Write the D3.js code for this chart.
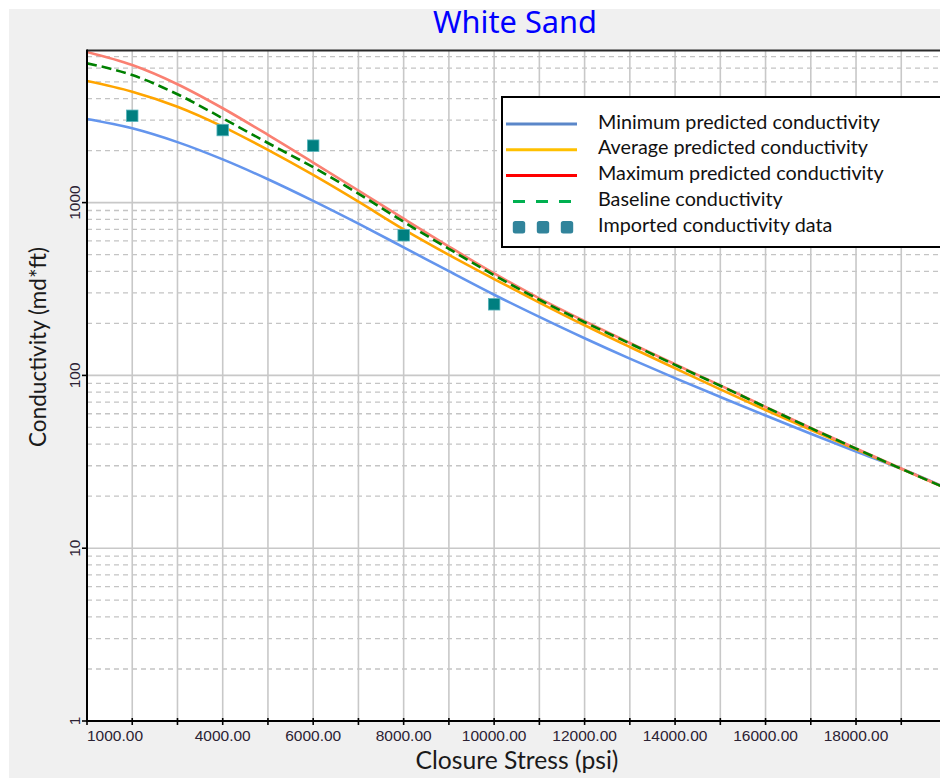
<!DOCTYPE html>
<html>
<head>
<meta charset="utf-8">
<script src="https://cdn.jsdelivr.net/npm/d3@7/dist/d3.min.js"></script>
<style>
  html, body { margin: 0; padding: 0; background: #ffffff; }
  svg { display: block; }
</style>
</head>
<body>
<svg id="chart" width="940" height="778"></svg>
<script>
// Closure stress (psi) at which the predicted curves are evaluated
const stress = [1000, 2000, 3000, 4000, 5000, 6000, 7000, 8000, 9000, 10000,
                11000, 12000, 13000, 14000, 15000, 16000, 17000, 18000, 19000, 20000];

// Conductivity (md*ft) for each predicted curve
const minCond  = [3048, 2692, 2239, 1778, 1365, 1023, 755, 551, 401, 293,
                  218, 164, 125, 96.4, 75.0, 58.6, 46.0, 36.3, 28.8, 22.3];
const avgCond  = [5058, 4385, 3589, 2754, 2018, 1445, 1012, 700, 498, 361,
                  264, 195, 146, 110, 83.0, 63.1, 48.4, 37.3, 28.8, 22.2];
const maxCond  = [7447, 6252, 4842, 3516, 2466, 1706, 1175, 807, 557, 389,
                  279, 206, 154, 116, 87.5, 65.8, 49.7, 37.8, 28.9, 22.2];
const baseCond = [6397, 5470, 4236, 3076, 2213, 1603, 1127, 774, 540, 380,
                  274, 203, 153, 115, 87.1, 65.6, 49.5, 37.7, 28.8, 22.2];

// Imported lab measurements
const importedStress = [2000, 4000, 6000, 8000, 10000];
const importedCond   = [3180, 2630, 2135, 647, 258];

// Axis ticks and labels
const xTicks = d3.range(1000, 20001, 1000);
const xLabelTicks = [1000, 4000, 6000, 8000, 10000, 12000, 14000, 16000, 18000];
const yMajor = [1, 10, 100, 1000];

const legendItems = [
  { label: "Minimum predicted conductivity", kind: "line",   color: "#5b87c9" },
  { label: "Average predicted conductivity", kind: "line",   color: "#ffc000" },
  { label: "Maximum predicted conductivity", kind: "line",   color: "#ff0000" },
  { label: "Baseline conductivity",          kind: "dash",   color: "#00b050" },
  { label: "Imported conductivity data",     kind: "marker", color: "#31849b" }
];

const svg = d3.select("#chart");
const W = 940, H = 778;
const plot = { left: 87, top: 51, right: 946.5, bottom: 721 };

// scale a text element's font so it spans the given width
function fitWidth(sel, width) {
  const node = sel.node();
  const fs = parseFloat(sel.attr("font-size"));
  const w = node.getComputedTextLength();
  if (w > 0) sel.attr("font-size", (fs * width / w).toFixed(2));
  return sel;
}

// window background
svg.append("rect").attr("x", 9).attr("y", 9).attr("width", W - 9).attr("height", H - 9)
  .attr("fill", "#f0f0f0");
svg.append("rect").attr("x", plot.left).attr("y", plot.top)
  .attr("width", plot.right - plot.left).attr("height", plot.bottom - plot.top)
  .attr("fill", "#ffffff");

const x = d3.scaleLinear().domain([1000, 20000]).range([plot.left, plot.right]);
const y = d3.scaleLog().domain([1, 7540]).range([plot.bottom, plot.top]);

// grid
const grid = svg.append("g");
const minorVals = [];
for (const d of [1, 10, 100, 1000]) {
  for (let k = 2; k <= 9; k++) {
    const v = d * k;
    if (v <= y.domain()[1]) minorVals.push(v);
  }
}
grid.selectAll("line.minor").data(minorVals).join("line")
  .attr("x1", plot.left).attr("x2", plot.right)
  .attr("y1", d => y(d)).attr("y2", d => y(d))
  .attr("stroke", "#c4c4c4").attr("stroke-width", 1.3).attr("stroke-dasharray", "5,4");
grid.selectAll("line.major").data(yMajor.slice(1)).join("line")
  .attr("x1", plot.left).attr("x2", plot.right)
  .attr("y1", d => y(d)).attr("y2", d => y(d))
  .attr("stroke", "#c8c8c8").attr("stroke-width", 1.6);
grid.selectAll("line.vert").data(xTicks.slice(1)).join("line")
  .attr("x1", d => x(d)).attr("x2", d => x(d))
  .attr("y1", plot.top).attr("y2", plot.bottom)
  .attr("stroke", "#c8c8c8").attr("stroke-width", 1.6);

// curves
svg.append("clipPath").attr("id", "plotClip").append("rect")
  .attr("x", plot.left).attr("y", plot.top - 2)
  .attr("width", plot.right - plot.left).attr("height", plot.bottom - plot.top + 2);

const series = [
  { values: minCond,  color: "#6495ed", dash: null },
  { values: avgCond,  color: "#ffa500", dash: null },
  { values: maxCond,  color: "#fa8072", dash: null },
  { values: baseCond, color: "#008000", dash: "10,5" }
];
const line = d3.line()
  .x(d => x(d[0])).y(d => y(d[1]))
  .curve(d3.curveMonotoneX);
const curves = svg.append("g").attr("clip-path", "url(#plotClip)");
series.forEach(s => {
  curves.append("path")
    .attr("d", line(stress.map((v, i) => [v, s.values[i]])))
    .attr("fill", "none")
    .attr("stroke", s.color)
    .attr("stroke-width", 2.6)
    .attr("stroke-dasharray", s.dash);
});

// imported data points
const ms = 11.5;
curves.selectAll("rect.pt").data(importedStress.map((v, i) => [v, importedCond[i]])).join("rect")
  .attr("x", d => x(d[0]) - ms / 2).attr("y", d => y(d[1]) - ms / 2)
  .attr("width", ms).attr("height", ms)
  .attr("fill", "#007f80").attr("stroke", "#58b3bb").attr("stroke-width", 0.8);

// plot frame and axes
svg.append("line").attr("x1", plot.left).attr("x2", plot.right)
  .attr("y1", plot.top - 0.5).attr("y2", plot.top - 0.5)
  .attr("stroke", "#2a2a2a").attr("stroke-width", 2);
svg.append("line").attr("x1", plot.left).attr("x2", plot.left)
  .attr("y1", plot.top - 1.5).attr("y2", plot.bottom + 1)
  .attr("stroke", "#000").attr("stroke-width", 2);
svg.append("line").attr("x1", plot.left - 1).attr("x2", plot.right)
  .attr("y1", plot.bottom).attr("y2", plot.bottom)
  .attr("stroke", "#000").attr("stroke-width", 2);

// x ticks
svg.append("g").selectAll("line").data(xTicks).join("line")
  .attr("x1", d => x(d)).attr("x2", d => x(d))
  .attr("y1", plot.bottom - 3).attr("y2", plot.bottom + 4)
  .attr("stroke", "#000").attr("stroke-width", 1.6);
const tickFont = "'Liberation Sans', Arial, sans-serif";
svg.append("g").selectAll("text").data(xLabelTicks).join("text")
  .attr("x", d => d === 1000 ? plot.left : x(d))
  .attr("y", 741)
  .attr("text-anchor", d => d === 1000 ? "start" : "middle")
  .attr("font-family", tickFont).attr("font-size", 15.5)
  .attr("fill", "#2b2233")
  .text(d => d3.format(".2f")(d));

// y ticks
svg.append("g").selectAll("line").data(yMajor).join("line")
  .attr("x1", plot.left - 5).attr("x2", plot.left)
  .attr("y1", d => y(d)).attr("y2", d => y(d))
  .attr("stroke", "#000").attr("stroke-width", 1.6);
svg.append("g").selectAll("text").data(yMajor).join("text")
  .attr("transform", d => `translate(80,${y(d)}) rotate(-90)`)
  .attr("text-anchor", "middle")
  .attr("font-family", tickFont).attr("font-size", 15.5)
  .attr("fill", "#2b2233")
  .text(d => d);

// titles
svg.append("text")
  .attr("x", 515).attr("y", 33)
  .attr("text-anchor", "middle")
  .attr("font-family", "'Noto Sans', 'Open Sans', sans-serif")
  .attr("font-size", 31)
  .attr("textLength", 164).attr("lengthAdjust", "spacingAndGlyphs")
  .attr("fill", "#0000ff")
  .text("White Sand");

const labelFont = "Lato, 'Open Sans', sans-serif";
const xTitle = svg.append("text")
  .attr("x", 517).attr("y", 769)
  .attr("text-anchor", "middle")
  .attr("font-family", labelFont).attr("font-size", 22)
  .attr("fill", "#1a1a1a")
  .text("Closure Stress (psi)");
fitWidth(xTitle, 203);
const yTitle = svg.append("text")
  .attr("transform", "translate(46,347) rotate(-90)")
  .attr("text-anchor", "middle")
  .attr("font-family", labelFont).attr("font-size", 22)
  .attr("fill", "#1a1a1a")
  .text("Conductivity (md*ft)");
fitWidth(yTitle, 200);

// legend
const lg = svg.append("g");
lg.append("rect").attr("x", 502).attr("y", 97).attr("width", 460).attr("height", 150)
  .attr("fill", "#ffffff").attr("stroke", "#000").attr("stroke-width", 2);
let legendFont = null;
legendItems.forEach((it, i) => {
  const base = 128.5 + i * 25.8;
  const cy = base - 4.5;
  if (it.kind === "line" || it.kind === "dash") {
    lg.append("line").attr("x1", 506).attr("x2", 577).attr("y1", cy).attr("y2", cy)
      .attr("stroke", it.color).attr("stroke-width", 3)
      .attr("stroke-dasharray", it.kind === "dash" ? "12,11" : null)
      .attr("stroke-dashoffset", it.kind === "dash" ? -7 : null);
  } else {
    [519, 543, 567].forEach(cx => {
      lg.append("rect").attr("x", cx - 6.2).attr("y", cy - 6.2).attr("width", 12.4).attr("height", 12.4)
        .attr("rx", 2.5).attr("fill", it.color);
    });
  }
  const t = lg.append("text").attr("x", 598).attr("y", base)
    .attr("font-family", labelFont).attr("font-size", legendFont || 19)
    .attr("fill", "#111")
    .text(it.label);
  if (i === 0) {
    fitWidth(t, 282);
    legendFont = t.attr("font-size");
  }
});
</script>
</body>
</html>
